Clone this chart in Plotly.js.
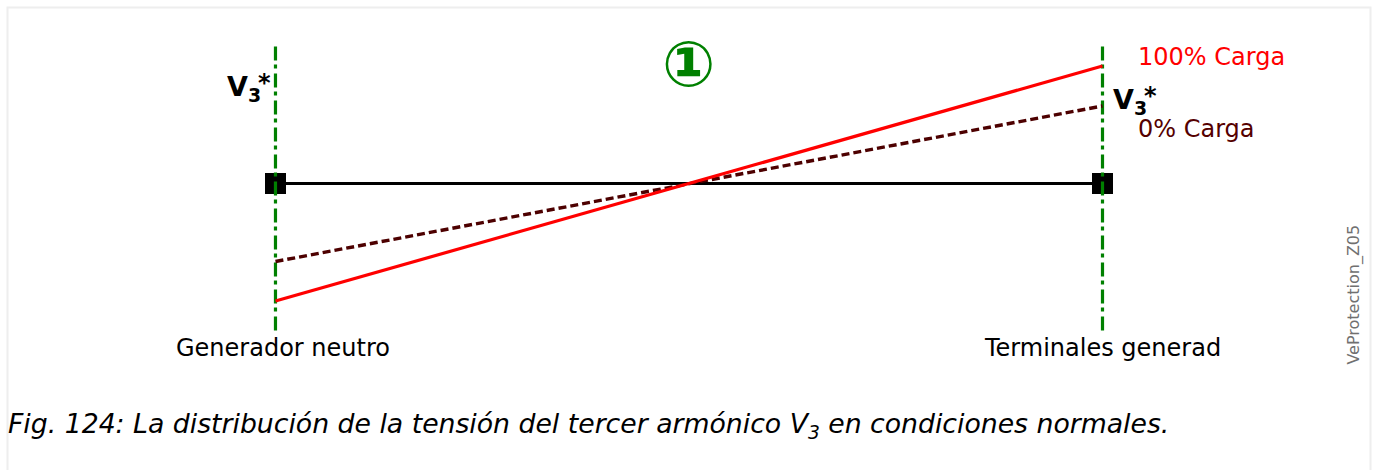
<!DOCTYPE html>
<html><head><meta charset="utf-8">
<script src="https://cdn.plot.ly/plotly-3.0.1.min.js"></script>
<style>html,body{margin:0;padding:0;background:#fff}#c{width:1375px;height:470px}</style></head>
<body><div id="c"></div>
<script>
const positions = [0, 100];
const load100 = [-117.5, 117.5];
const load0 = [-78, 77.5];
const baseline = [0, 0];
const markerLimits = [137, -148];
const labelNeutral = "Generador neutro";
const labelTerminal = "Terminales generad";
const labelFull = "100% Carga";
const labelNone = "0% Carga";
const caption = "<i>Fig. 124: La distribución de la tensión del tercer armónico V<sub>3</sub> en condiciones normales.</i>";
const watermark = "VeProtection_Z05";

const font = "DejaVu Sans, sans-serif";
const green = "#008000", dark = "#550000", red = "#ff0000";
const greenDash = "14px,4px,4px,5px";

const traces = [
  {x: positions, y: baseline, mode: "lines+markers", line: {color: "#000", width: 3.2},
   marker: {symbol: "square", size: 21, color: "#000"}},
  {x: [positions[0], positions[0]], y: markerLimits, mode: "lines", line: {color: green, width: 3.2, dash: greenDash}},
  {x: [positions[1], positions[1]], y: markerLimits, mode: "lines", line: {color: green, width: 3.2, dash: greenDash}},
  {x: positions, y: load0, mode: "lines", line: {color: "#4d0000", width: 3.4, dash: "8px,4px"}},
  {x: positions, y: load100, mode: "lines", line: {color: red, width: 3.2}}
];

const note = (x, y, text, size, color, extra) => Object.assign({
  x, y, xref: "x", yref: "y", text, showarrow: false,
  font: {family: font, size, color}, xanchor: "left", yanchor: "middle"
}, extra || {});

const layout = {
  width: 1375, height: 470, margin: {l: 0, r: 0, t: 0, b: 0},
  paper_bgcolor: "#fff", plot_bgcolor: "#fff", showlegend: false,
  xaxis: {range: [-33.31, 132.95], visible: false, fixedrange: true},
  yaxis: {range: [-286.5, 183.5], visible: false, fixedrange: true},
  shapes: [{type: "rect", xref: "paper", yref: "paper", x0: 7.5/1375, x1: 1370.5/1375, y0: -0.02, y1: 1 - 7.5/470,
            line: {color: "#eeeeee", width: 2}, fillcolor: "rgba(0,0,0,0)"}],
  annotations: [
    note(-6.05, 95, "<b>V<sub>3</sub></b>", 27, "#000"),
    note(-2.3, 101, "<b>*</b>", 24, "#000"),
    note(101.05, 82, "<b>V<sub>3</sub></b>", 27, "#000"),
    note(104.75, 88, "<b>*</b>", 24, "#000"),
    note(104.05, 127, labelFull, 24, red),
    note(104.05, 55, labelNone, 24, dark),
    note(0.95, -164, labelNeutral, 24, "#000", {xanchor: "center"}),
    note(100, -164, labelTerminal, 24, "#000", {xanchor: "center"}),
    note(50, 119.5, "<b>①</b>", 63, green, {xanchor: "center"}),
    note(-32.6, -242, caption, 26.7, "#000"),
    note(130.3, -111, watermark, 16, "#707070", {xanchor: "center", textangle: -90})
  ]
};
Plotly.newPlot("c", traces, layout, {staticPlot: true, displayModeBar: false});
</script></body></html>
